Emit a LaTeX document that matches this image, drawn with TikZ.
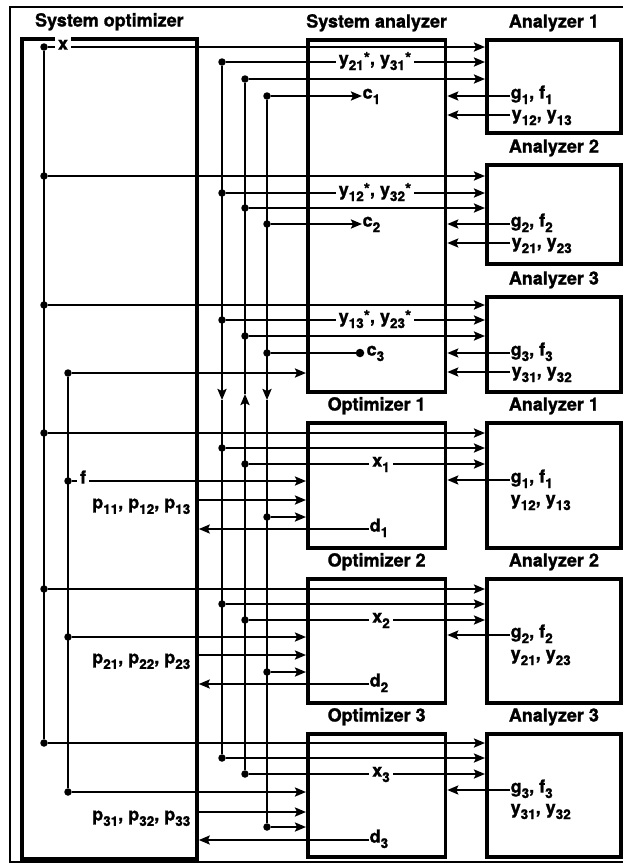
\documentclass[tikz,border=0pt]{standalone}
\usepackage{fontspec}
\setmainfont{TeX Gyre Heros}[BoldFeatures={FakeBold=1.3}]
\usetikzlibrary{arrows.meta}
\newcommand\lsb[1]{\raisebox{-0.3em}{\fontsize{13.5}{14}\selectfont #1}}
\newcommand\lsp[1]{\raisebox{0.05em}{\fontsize{16}{16}\selectfont #1}}
\begin{document}
\begin{tikzpicture}[x=1pt,y=-1pt,
  box/.style={draw, line width=3.8pt, anchor=north west, inner sep=0pt},
  ttl/.style={font=\fontsize{18}{20}\selectfont\bfseries, anchor=base, inner sep=0pt},
  lab/.style={font=\fontsize{18}{20}\selectfont\bfseries, inner sep=0.5pt},
  onl/.style={lab, fill=white, inner sep=3pt, anchor=mid},
  conn/.style={line width=2.1pt},
  arr/.style={-{Stealth[length=11pt,width=9pt,inset=2pt]}},
  dot/.style={circle, fill, inner sep=0pt, minimum size=7.5pt},
  frame/.style={line width=1.9pt}]
\useasboundingbox (0,0) rectangle (624,865);
\draw[frame] (623,7) -- (10,7) -- (10,862) -- (623,862);

% boxes
\node[box, minimum width=175pt, minimum height=820pt] (so) at (20,37) {};
\node[box, minimum width=137.5pt, minimum height=352pt] (sa) at (306,38) {};
\node[box, minimum width=134pt, minimum height=93pt] (a1t) at (485,38) {};
\node[box, minimum width=134pt, minimum height=99pt] (a2t) at (485,163) {};
\node[box, minimum width=134pt, minimum height=95pt] (a3t) at (485,295) {};
\node[box, minimum width=137.5pt, minimum height=125pt] (o1) at (306,421) {};
\node[box, minimum width=134pt, minimum height=125pt] (a1b) at (485,421) {};
\node[box, minimum width=137.5pt, minimum height=124pt] (o2) at (306,577) {};
\node[box, minimum width=134pt, minimum height=124pt] (a2b) at (485,577) {};
\node[box, minimum width=137.5pt, minimum height=123pt] (o3) at (306,732) {};
\node[box, minimum width=134pt, minimum height=123pt] (a3b) at (485,732) {};

% titles
\node[ttl] (tso) at ([yshift=10.5pt]so.north) {System optimizer};
\node[ttl] (tsa) at ([yshift=10.5pt]sa.north) {System analyzer};
\node[ttl] (ta1t) at ([yshift=10.5pt]a1t.north) {Analyzer 1};
\node[ttl] (ta2t) at ([yshift=10.5pt]a2t.north) {Analyzer 2};
\node[ttl] (ta3t) at ([yshift=10.5pt]a3t.north) {Analyzer 3};
\node[ttl] (to1) at ([yshift=10.5pt]o1.north) {Optimizer 1};
\node[ttl] (ta1b) at ([yshift=10.5pt]a1b.north) {Analyzer 1};
\node[ttl] (to2) at ([yshift=10.5pt]o2.north) {Optimizer 2};
\node[ttl] (ta2b) at ([yshift=10.5pt]a2b.north) {Analyzer 2};
\node[ttl] (to3) at ([yshift=10.5pt]o3.north) {Optimizer 3};
\node[ttl] (ta3b) at ([yshift=10.5pt]a3b.north) {Analyzer 3};

% dots
\node[dot] (dx1) at (44,47) {};
\node[dot] (dx2) at (44,176) {};
\node[dot] (dx3) at (44,305) {};
\node[dot] (dx4) at (44,433) {};
\node[dot] (dx5) at (44,589) {};
\node[dot] (dx6) at (44,743) {};
\node[dot] (df1) at (68,373) {};
\node[dot] (df2) at (68,481) {};
\node[dot] (df3) at (68,637) {};
\node[dot] (df4) at (68,792) {};
\node[dot] (d11) at (222,62) {};
\node[dot] (d12) at (222,193) {};
\node[dot] (d13) at (222,320) {};
\node[dot] (d14) at (222,448) {};
\node[dot] (d15) at (222,604) {};
\node[dot] (d16) at (222,758) {};
\node[dot] (d21) at (245,79) {};
\node[dot] (d22) at (245,208) {};
\node[dot] (d23) at (245,336) {};
\node[dot] (d24) at (245,464) {};
\node[dot] (d25) at (245,620) {};
\node[dot] (d26) at (245,774) {};
\node[dot] (d31) at (267,96) {};
\node[dot] (d32) at (267,224) {};
\node[dot] (d33) at (267,353) {};
\node[dot] (d34) at (267,517) {};
\node[dot] (d35) at (267,672) {};
\node[dot] (d36) at (267,827) {};

% vertical buses
\draw[conn] (dx1) -- (dx6);
\draw[conn] (df1) -- (df4);
\coordinate (v1m) at (222,400);
\coordinate (v2m) at (245,394);
\coordinate (v3m) at (267,400);
\draw[conn,arr] (d11) -- (v1m);
\draw[conn] (v1m) -- (d16);
\draw[conn,arr] (d26) -- (v2m);
\draw[conn] (v2m) -- (d21);
\draw[conn,arr] (d31) -- (v3m);
\draw[conn] (v3m) -- (d36);

% ---- system analyzer / analyzer 1
\draw[conn,arr] (dx1) -- (dx1 -| a1t.west);
\node[onl] (lx) at (63,47) {x};
\draw[conn,arr] (d11) -- (d11 -| a1t.west);
\node[onl] (ly1) at (375,62) {y\lsb{21}\lsp{*}, y\lsb{31}\lsp{*}};
\draw[conn,arr] (d21) -- (d21 -| a1t.west);
\coordinate (c1e) at (362,96);
\draw[conn,arr] (d31) -- (c1e);
\node[lab, anchor=mid west] (lc1) at (c1e) {c\lsb{1}};
\coordinate (g1s) at (510,96);
\draw[conn,arr] (g1s) -- (g1s -| sa.east);
\node[lab, anchor=mid west] (lg1) at (g1s) {g\lsb{1}, f\lsb{1}};
\coordinate (y1s) at (510,115);
\draw[conn,arr] (y1s) -- (y1s -| sa.east);
\node[lab, anchor=mid west] (lyy1) at (511,117) {y\lsb{12}, y\lsb{13}};

% ---- analyzer 2
\draw[conn,arr] (dx2) -- (dx2 -| a2t.west);
\draw[conn,arr] (d12) -- (d12 -| a2t.west);
\node[onl] (ly2) at (375,193) {y\lsb{12}\lsp{*}, y\lsb{32}\lsp{*}};
\draw[conn,arr] (d22) -- (d22 -| a2t.west);
\coordinate (c2e) at (362,224);
\draw[conn,arr] (d32) -- (c2e);
\node[lab, anchor=mid west] (lc2) at (c2e) {c\lsb{2}};
\coordinate (g2s) at (510,224);
\draw[conn,arr] (g2s) -- (g2s -| sa.east);
\node[lab, anchor=mid west] (lg2) at (g2s) {g\lsb{2}, f\lsb{2}};
\coordinate (y2s) at (510,243);
\draw[conn,arr] (y2s) -- (y2s -| sa.east);
\node[lab, anchor=mid west] (lyy2) at (511,245) {y\lsb{21}, y\lsb{23}};

% ---- analyzer 3
\draw[conn,arr] (dx3) -- (dx3 -| a3t.west);
\draw[conn,arr] (d13) -- (d13 -| a3t.west);
\node[onl] (ly3) at (375,320) {y\lsb{13}\lsp{*}, y\lsb{23}\lsp{*}};
\draw[conn,arr] (d23) -- (d23 -| a3t.west);
\node[dot, minimum size=8.5pt] (c3d) at (360,353) {};
\draw[conn] (d33) -- (c3d);
\node[lab, anchor=mid west] (lc3) at (366,353) {c\lsb{3}};
\coordinate (g3s) at (510,353);
\draw[conn,arr] (g3s) -- (g3s -| sa.east);
\node[lab, anchor=mid west] (lg3) at (g3s) {g\lsb{3}, f\lsb{3}};
\coordinate (y3s) at (510,372);
\draw[conn,arr] (y3s) -- (y3s -| sa.east);
\node[lab, anchor=mid west] (lyy3) at (511,374) {y\lsb{31}, y\lsb{32}};
\draw[conn,arr] (df1) -- (df1 -| sa.west);

% ---- optimizer 1
\draw[conn,arr] (dx4) -- (dx4 -| a1b.west);
\draw[conn,arr] (d14) -- (d14 -| a1b.west);
\draw[conn,arr] (d24) -- (d24 -| a1b.west);
\node[onl] (lx1) at (381,464) {x\lsb{1}};
\draw[conn,arr] (df2) -- (df2 -| o1.west);
\node[onl] (lf) at (83,481) {f};
\coordinate (ps1) at (195,500);
\draw[conn,arr] (ps1) -- (ps1 -| o1.west);
\node[lab, anchor=base east] (lp1) at (191,508.5) {p\lsb{11}, p\lsb{12}, p\lsb{13}};
\draw[conn,arr] (d34) -- (d34 -| o1.west);
\coordinate (dd1) at (369,529);
\draw[conn,arr] (dd1) -- (dd1 -| so.east);
\node[lab, anchor=mid west] (ld1) at (dd1) {d\lsb{1}};
\coordinate (gb1) at (510,480);
\draw[conn,arr] (gb1) -- (gb1 -| o1.east);
\node[lab, anchor=mid west] (lgb1) at (gb1) {g\lsb{1}, f\lsb{1}};
\node[lab, anchor=mid west] (lyb1) at (510,502) {y\lsb{12}, y\lsb{13}};

% ---- optimizer 2
\draw[conn,arr] (dx5) -- (dx5 -| a2b.west);
\draw[conn,arr] (d15) -- (d15 -| a2b.west);
\draw[conn,arr] (d25) -- (d25 -| a2b.west);
\node[onl] (lx2) at (381,620) {x\lsb{2}};
\draw[conn,arr] (df3) -- (df3 -| o2.west);
\coordinate (ps2) at (195,655);
\draw[conn,arr] (ps2) -- (ps2 -| o2.west);
\node[lab, anchor=base east] (lp2) at (191,663.5) {p\lsb{21}, p\lsb{22}, p\lsb{23}};
\draw[conn,arr] (d35) -- (d35 -| o2.west);
\coordinate (dd2) at (369,684);
\draw[conn,arr] (dd2) -- (dd2 -| so.east);
\node[lab, anchor=mid west] (ld2) at (dd2) {d\lsb{2}};
\coordinate (gb2) at (510,635);
\draw[conn,arr] (gb2) -- (gb2 -| o2.east);
\node[lab, anchor=mid west] (lgb2) at (gb2) {g\lsb{2}, f\lsb{2}};
\node[lab, anchor=mid west] (lyb2) at (510,657) {y\lsb{21}, y\lsb{23}};

% ---- optimizer 3
\draw[conn,arr] (dx6) -- (dx6 -| a3b.west);
\draw[conn,arr] (d16) -- (d16 -| a3b.west);
\draw[conn,arr] (d26) -- (d26 -| a3b.west);
\node[onl] (lx3) at (381,774) {x\lsb{3}};
\draw[conn,arr] (df4) -- (df4 -| o3.west);
\coordinate (ps3) at (195,812);
\draw[conn,arr] (ps3) -- (ps3 -| o3.west);
\node[lab, anchor=base east] (lp3) at (191,820.5) {p\lsb{31}, p\lsb{32}, p\lsb{33}};
\draw[conn,arr] (d36) -- (d36 -| o3.west);
\coordinate (dd3) at (369,840);
\draw[conn,arr] (dd3) -- (dd3 -| so.east);
\node[lab, anchor=mid west] (ld3) at (dd3) {d\lsb{3}};
\coordinate (gb3) at (510,790);
\draw[conn,arr] (gb3) -- (gb3 -| o3.east);
\node[lab, anchor=mid west] (lgb3) at (gb3) {g\lsb{3}, f\lsb{3}};
\node[lab, anchor=mid west] (lyb3) at (510,811) {y\lsb{31}, y\lsb{32}};
\end{tikzpicture}
\end{document}
